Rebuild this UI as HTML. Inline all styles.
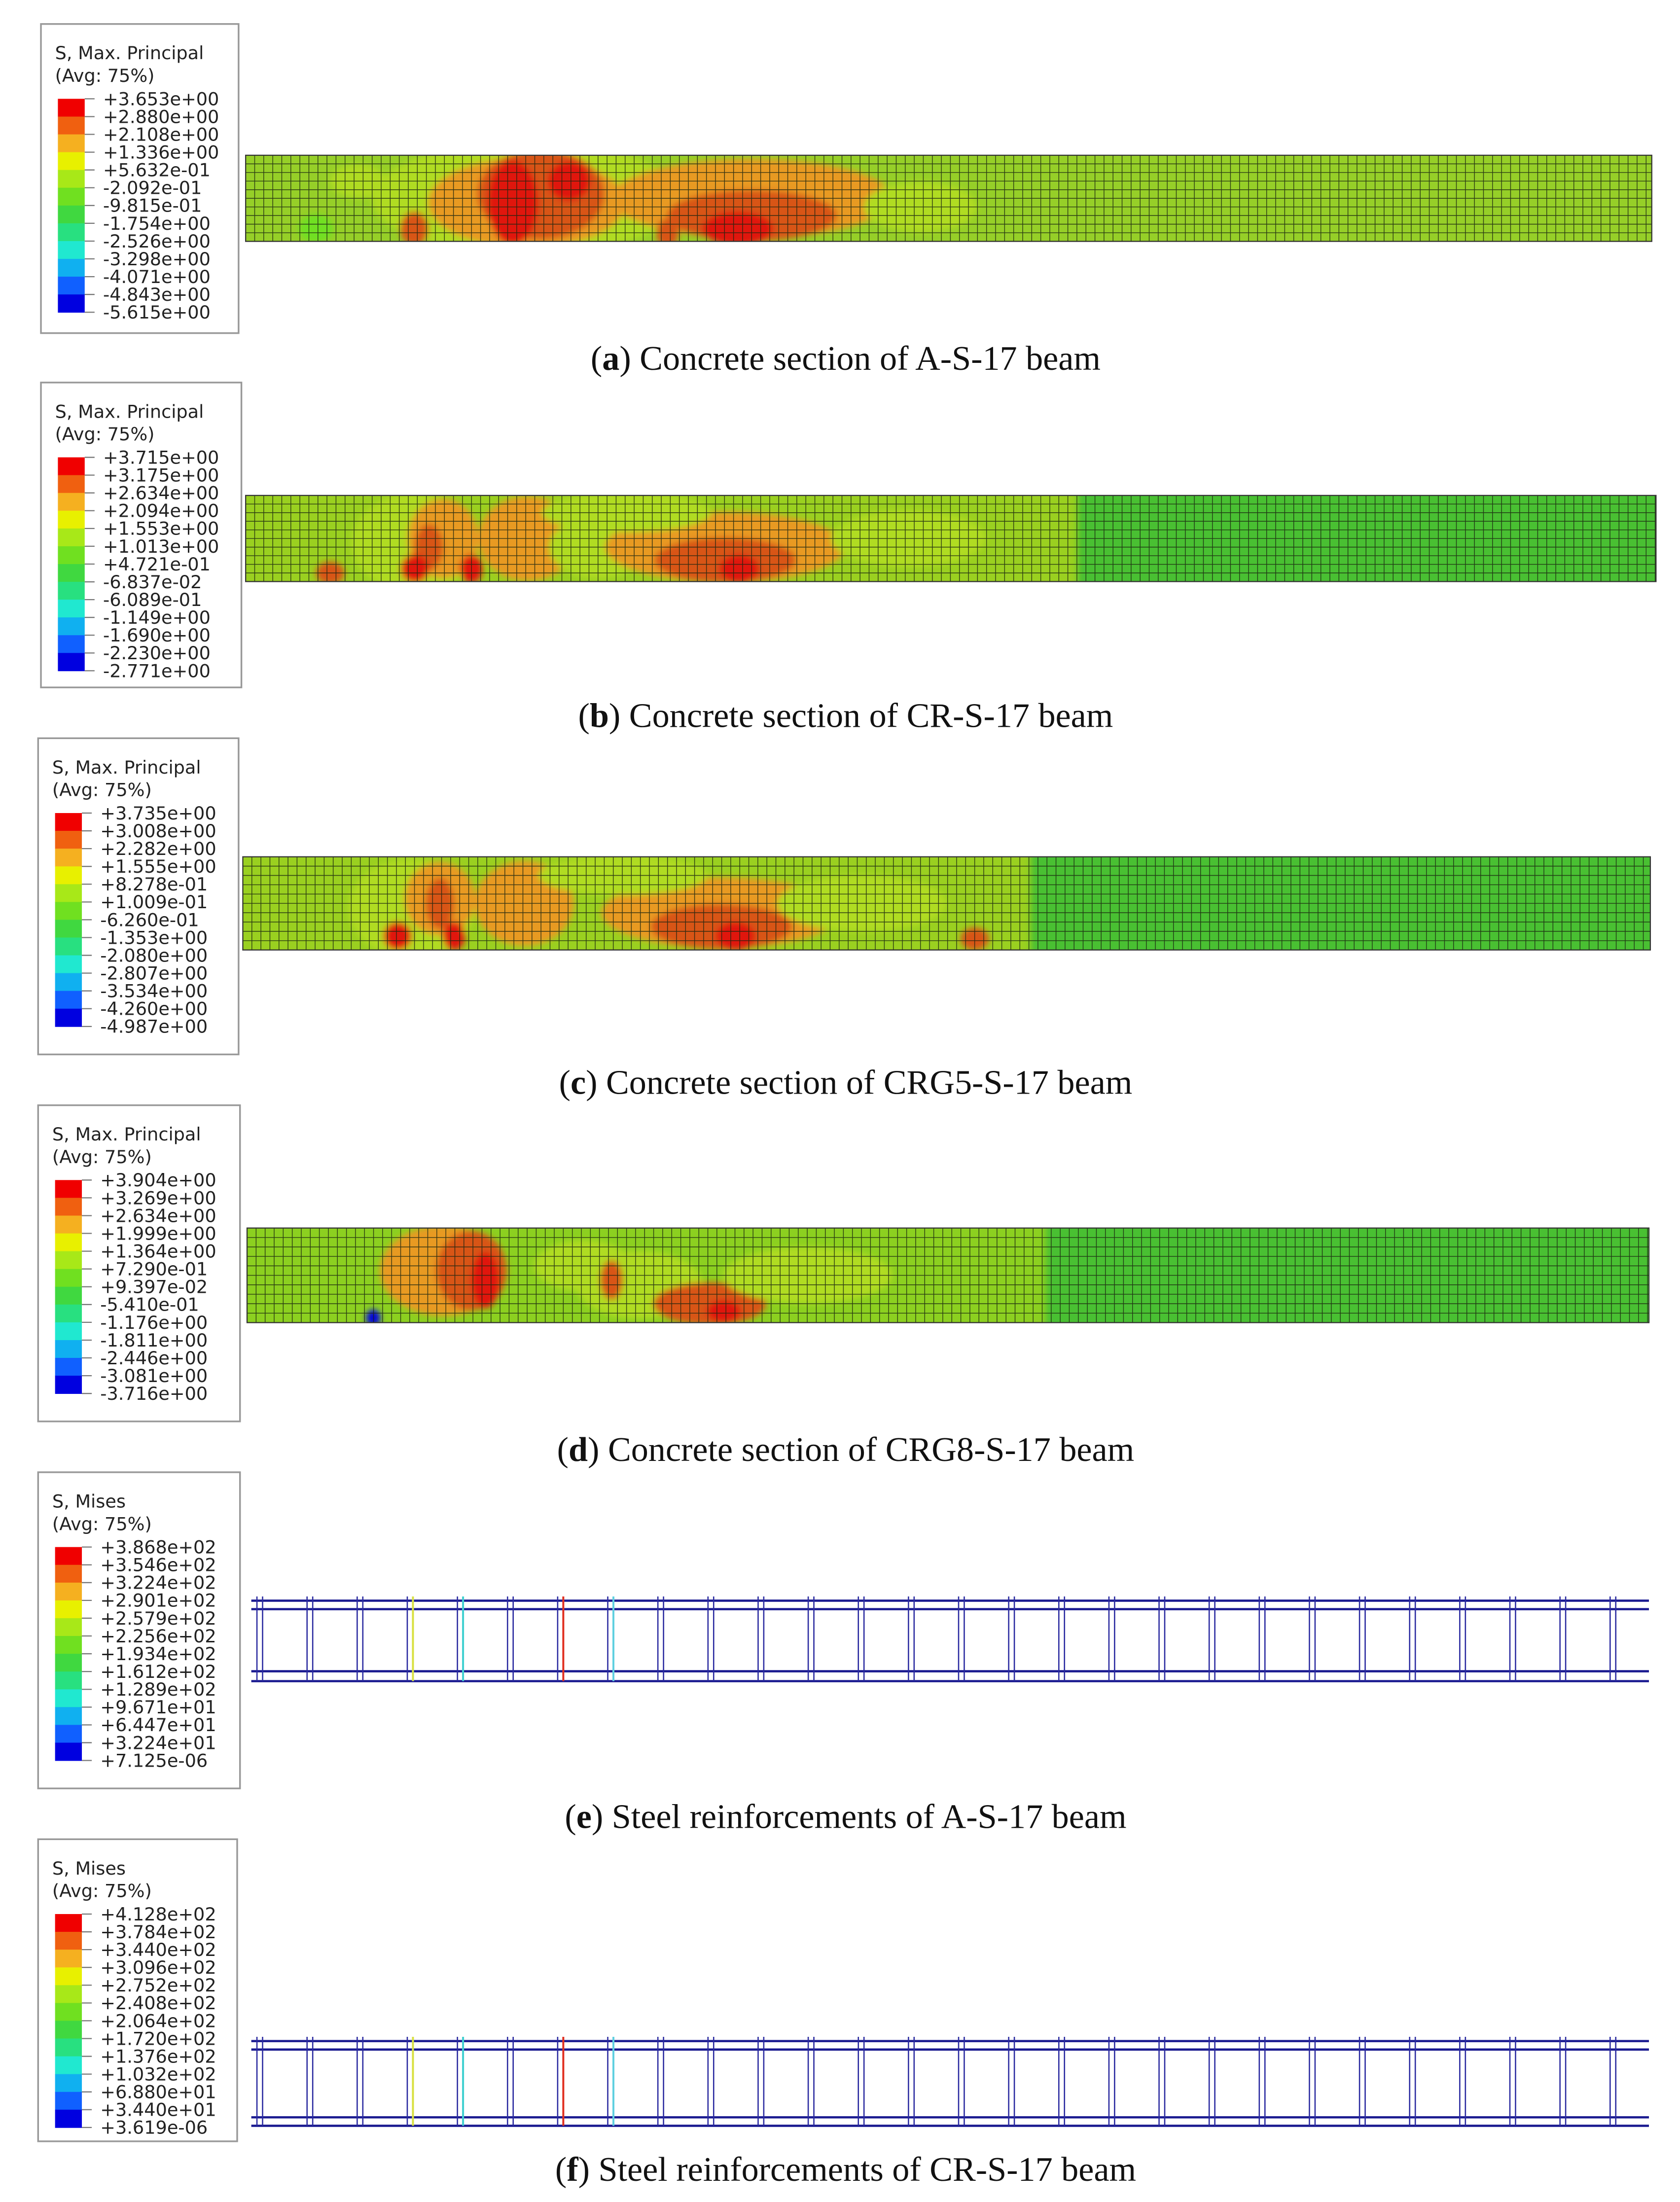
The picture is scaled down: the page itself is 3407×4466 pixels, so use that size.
<!DOCTYPE html>
<html><head><meta charset="utf-8">
<style>
html,body{margin:0;padding:0;background:#fff;}
svg{display:block;}
.lt{font-family:"DejaVu Sans","Liberation Sans",sans-serif;font-size:12.8px;fill:#222;}
.cap{font-family:"Liberation Serif",serif;font-size:24.5px;fill:#111;}
</style></head>
<body>
<svg id="fig" width="3407" height="4466" viewBox="0 0 1190 1560" preserveAspectRatio="none" xmlns="http://www.w3.org/2000/svg">
<defs>
<filter id="bl" x="-20%" y="-50%" width="140%" height="200%"><feGaussianBlur stdDeviation="2.2"/></filter>
</defs>
</svg>
<script>
const NS='http://www.w3.org/2000/svg';
const svg=document.getElementById('fig');
const bandColors=['#f00000','#f06010','#f5b020','#e8f000','#a8e818','#70e020','#40d840','#28e080','#20e8d0','#10b0f0','#1060ff','#0000e0'];
const blobColors=['#e01810','#d85518','#e89a20','#d8e018','#b0dc20','#70e020','#40d840','#28e080','#20e8d0','#10b0f0','#1060ff','#0000e0'];
const labelsA=['+3.653e+00','+2.880e+00','+2.108e+00','+1.336e+00','+5.632e-01','-2.092e-01','-9.815e-01','-1.754e+00','-2.526e+00','-3.298e+00','-4.071e+00','-4.843e+00','-5.615e+00'];
const labelsB=['+3.715e+00','+3.175e+00','+2.634e+00','+2.094e+00','+1.553e+00','+1.013e+00','+4.721e-01','-6.837e-02','-6.089e-01','-1.149e+00','-1.690e+00','-2.230e+00','-2.771e+00'];
const labelsC=['+3.735e+00','+3.008e+00','+2.282e+00','+1.555e+00','+8.278e-01','+1.009e-01','-6.260e-01','-1.353e+00','-2.080e+00','-2.807e+00','-3.534e+00','-4.260e+00','-4.987e+00'];
const labelsD=['+3.904e+00','+3.269e+00','+2.634e+00','+1.999e+00','+1.364e+00','+7.290e-01','+9.397e-02','-5.410e-01','-1.176e+00','-1.811e+00','-2.446e+00','-3.081e+00','-3.716e+00'];
const labelsE=['+3.868e+02','+3.546e+02','+3.224e+02','+2.901e+02','+2.579e+02','+2.256e+02','+1.934e+02','+1.612e+02','+1.289e+02','+9.671e+01','+6.447e+01','+3.224e+01','+7.125e-06'];
const labelsF=['+4.128e+02','+3.784e+02','+3.440e+02','+3.096e+02','+2.752e+02','+2.408e+02','+2.064e+02','+1.720e+02','+1.376e+02','+1.032e+02','+6.880e+01','+3.440e+01','+3.619e-06'];

function el(tag,attrs,parent){const e=document.createElementNS(NS,tag);for(const k in attrs)e.setAttribute(k,attrs[k]);(parent||svg).appendChild(e);return e;}

function legend(x,y,w,h,title,labels,key){
  const g=el('g',{});
  
  
  el('rect',{x:x,y:y,width:w,height:h,fill:'#fff',stroke:'#999','stroke-width':1.2},g);
  const t1=el('text',{x:x+10,y:y+25,class:'lt'},g);t1.textContent=title;
  const t2=el('text',{x:x+10,y:y+41,class:'lt'},g);t2.textContent='(Avg: 75%)';
  const top=y+53, step=12.6;
  bandColors.forEach((c,i)=>{
    const r=el('rect',{x:x+12,y:top+i*step,width:19,height:step+0.3,fill:c},g);
    
    
  });
  labels.forEach((l,i)=>{
    el('line',{x1:x+31,x2:x+38,y1:top+i*step,y2:top+i*step,stroke:'#777','stroke-width':0.8},g);
    const t=el('text',{x:x+44,y:top+i*step+4.5,class:'lt'},g);t.textContent=l;
    
    
  });
}
function caption(cx,y,letter,rest,key){
  const t=el('text',{x:cx,y:y,class:'cap','text-anchor':'middle'});
  
  
  t.innerHTML='(<tspan font-weight="bold">'+letter+'</tspan>) '+rest;
}
// blobs: [cx fraction, cy fraction, rx, ry, color index]
const blobsA=[[0.05,0.85,12,10,5],[0.2,0.5,110,40,4],[0.2,0.55,70,32,2],[0.21,0.45,45,32,1],[0.19,0.55,18,30,0],[0.23,0.3,15,14,0],[0.12,0.85,10,12,1],[0.36,0.5,100,28,2],[0.36,0.7,60,18,1],[0.35,0.85,25,12,0],[0.3,0.9,8,10,1],[0.48,0.6,40,18,4],[0.08,0.3,20,12,4]];
const blobsB=[[0.12,0.55,45,35,4],[0.14,0.5,25,28,2],[0.13,0.6,10,16,1],[0.12,0.85,10,10,0],[0.16,0.85,8,10,0],[0.2,0.5,35,30,2],[0.25,0.6,35,22,4],[0.34,0.6,85,25,2],[0.34,0.75,50,16,1],[0.35,0.85,14,10,0],[0.47,0.5,55,20,4],[0.06,0.9,10,8,1],[0.27,0.2,60,14,4]];
const blobsC=[[0.12,0.55,45,35,4],[0.14,0.45,25,26,2],[0.14,0.5,10,18,1],[0.11,0.85,10,10,0],[0.15,0.85,8,10,0],[0.21,0.3,12,10,0],[0.2,0.5,35,30,2],[0.34,0.6,85,25,2],[0.34,0.75,50,16,1],[0.35,0.85,14,10,0],[0.44,0.5,60,20,4],[0.52,0.88,10,8,1],[0.27,0.2,60,14,4]];
const blobsD=[[0.14,0.45,45,32,2],[0.16,0.45,25,28,1],[0.17,0.55,10,20,0],[0.24,0.4,35,18,4],[0.28,0.6,45,24,4],[0.33,0.8,40,15,1],[0.34,0.88,12,8,0],[0.4,0.5,60,20,4],[0.09,0.95,5,6,11],[0.26,0.55,8,14,1]];
const beams=[
 {key:'a',x:174,y:110,w:996,h:61,base:'#96cf28',right:'#96cf28',split:1,blobs:blobsA},
 {key:'b',x:174,y:351,w:999,h:61,base:'#9ad020',right:'#48c030',split:0.59,blobs:blobsB},
 {key:'c',x:172,y:607,w:997,h:66,base:'#9ad020',right:'#48c030',split:0.56,blobs:blobsC},
 {key:'d',x:175,y:870,w:993,h:67,base:'#8cd020',right:'#48c030',split:0.57,blobs:blobsD}
];
beams.forEach((b,bi)=>{
  const g=el('g',{});
  
  
  const cp=el('clipPath',{id:'cp'+bi},g);
  el('rect',{x:b.x,y:b.y,width:b.w,height:b.h},cp);
  const inner=el('g',{'clip-path':'url(#cp'+bi+')'},g);
  el('rect',{x:b.x,y:b.y,width:b.w,height:b.h,fill:b.base},inner);
  if(b.split<1) el('rect',{x:b.x+b.w*b.split,y:b.y-10,width:b.w*(1-b.split)+10,height:b.h+20,fill:b.right,filter:'url(#bl)'},inner);
  const bg=el('g',{filter:'url(#bl)'},inner);
  b.blobs.forEach(o=>{
    const e=el('ellipse',{cx:b.x+o[0]*b.w,cy:b.y+o[1]*b.h,rx:o[2],ry:o[3],fill:blobColors[o[4]]},bg);
    
    
  });
  const cw=6.4, rows=10, rh=b.h/rows;
  let d='';
  for(let xx=b.x;xx<=b.x+b.w+0.1;xx+=cw)d+='M'+xx.toFixed(2)+' '+b.y+'V'+(b.y+b.h);
  for(let r=0;r<=rows;r++){const yy=b.y+r*rh;d+='M'+b.x+' '+yy.toFixed(2)+'H'+(b.x+b.w);}
  el('path',{d:d,stroke:'#1a2410','stroke-width':0.5,fill:'none','stroke-opacity':0.85},inner);
  el('rect',{x:b.x,y:b.y,width:b.w,height:b.h,fill:'none',stroke:'#333','stroke-width':0.8},g);
});
// rebar cages
const cages=[{key:'e',x:178,w:990,t1:1134,t2:1140,b1:1184,b2:1191},{key:'f',x:178,w:990,t1:1446,t2:1452,b1:1500,b2:1506}];
const hotStirrups=[[3,'#d8e040'],[4,'#40d0d0'],[6,'#e03020'],[7,'#60d0e0']];
cages.forEach(c=>{
  const g=el('g',{});
  
  
  [c.t1,c.t2,c.b1,c.b2].forEach(yy=>{
    const l=el('line',{x1:c.x,x2:c.x+c.w,y1:yy,y2:yy,stroke:'#1a1a90','stroke-width':1.6},g);
    
    
  });
  let i=0;
  for(let sx=182;sx<c.x+c.w-2;sx+=35.5,i++){
    [0,4].forEach(off=>{
      let col='#2a2aa0';
      hotStirrups.forEach(h=>{if(h[0]===i&&off===4)col=h[1];});
      const l=el('line',{x1:sx+off,x2:sx+off,y1:c.t1-3,y2:c.b2,stroke:col,'stroke-width':col==='#2a2aa0'?0.9:1.4},g);
      
      
    });
  }
});
legend(29,17,140,219,'S, Max. Principal',labelsA,'a');
legend(29,271,142,216,'S, Max. Principal',labelsB,'b');
legend(27,523,142,224,'S, Max. Principal',labelsC,'c');
legend(27,783,143,224,'S, Max. Principal',labelsD,'d');
legend(27,1043,143,224,'S, Mises',labelsE,'e');
legend(27,1303,141,214,'S, Mises',labelsF,'f');
caption(599,262,'a','Concrete section of A-S-17 beam','a');
caption(599,515,'b','Concrete section of CR-S-17 beam','b');
caption(599,775,'c','Concrete section of CRG5-S-17 beam','c');
caption(599,1035,'d','Concrete section of CRG8-S-17 beam','d');
caption(599,1295,'e','Steel reinforcements of A-S-17 beam','e');
caption(599,1545,'f','Steel reinforcements of CR-S-17 beam','f');
</script>
</body></html>
